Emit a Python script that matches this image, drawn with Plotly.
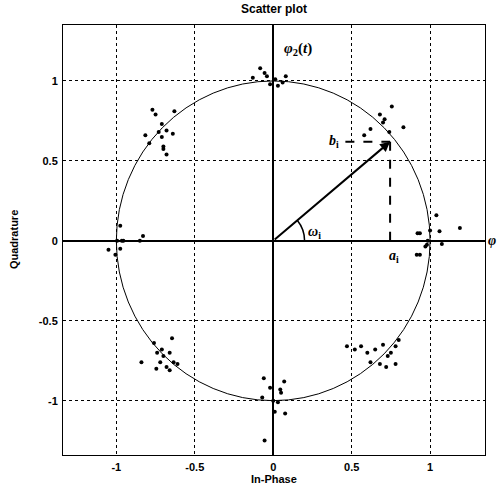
import plotly.graph_objects as go

# Received symbol samples (In-Phase, Quadrature)
top_i = [-0.083, -0.055, -0.04, -0.13, 0.08, 0.013, 0.03, -0.02, 0.06]
top_q = [1.08, 1.05, 1.03, 1.02, 1.03, 1.01, 0.97, 0.98, 0.99]

topright_i = [0.756, 0.68, 0.71, 0.70, 0.83, 0.58, 0.62, 0.74]
topright_q = [0.84, 0.79, 0.76, 0.74, 0.71, 0.66, 0.70, 0.68]

right_i = [1.04, 1.19, 1.06, 1.0, 0.92, 0.935, 0.98, 0.97, 1.075, 0.915, 0.935, 0.985]
right_q = [0.16, 0.08, 0.06, 0.065, 0.048, 0.048, -0.025, -0.035, -0.02, -0.087, -0.087, 0.0]

botright_i = [0.47, 0.52, 0.56, 0.60, 0.62, 0.65, 0.68, 0.70, 0.72, 0.75, 0.78, 0.80, 0.78, 0.73]
botright_q = [-0.66, -0.68, -0.66, -0.70, -0.76, -0.68, -0.77, -0.65, -0.79, -0.70, -0.77, -0.62, -0.66, -0.72]

bottom_i = [-0.06, -0.02, 0.045, 0.07, 0.05, -0.07, 0.03, 0.0, 0.01, 0.076, -0.055]
bottom_q = [-0.86, -0.92, -0.93, -0.88, -0.95, -0.98, -1.01, -1.0, -1.07, -1.08, -1.25]

botleft_i = [-0.645, -0.76, -0.71, -0.74, -0.66, -0.70, -0.84, -0.72, -0.635, -0.61, -0.68, -0.745, -0.66]
botleft_q = [-0.61, -0.64, -0.68, -0.70, -0.70, -0.72, -0.76, -0.76, -0.76, -0.77, -0.79, -0.80, -0.81]

left_i = [-0.975, -0.995, -0.965, -0.955, -0.85, -0.83, -1.05, -0.975, -1.006]
left_q = [0.094, 0.0, 0.0, 0.0, 0.0, 0.03, -0.056, -0.05, -0.087]

topleft_i = [-0.77, -0.75, -0.63, -0.71, -0.68, -0.73, -0.815, -0.71, -0.64, -0.79, -0.70, -0.70, -0.68]
topleft_q = [0.82, 0.79, 0.81, 0.73, 0.69, 0.68, 0.66, 0.65, 0.67, 0.61, 0.59, 0.575, 0.54]

# Illustrated symbol vector (a_i, b_i)
a_i = 0.745
b_i = 0.62

tick_vals = [-1, -0.5, 0, 0.5, 1]
tick_text = ["-1", "-0.5", "0", "0.5", "1"]

xs = top_i + topright_i + right_i + botright_i + bottom_i + botleft_i + left_i + topleft_i
ys = top_q + topright_q + right_q + botright_q + bottom_q + botleft_q + left_q + topleft_q

FONT = "Liberation Sans, Arial, sans-serif"
SERIF = "Liberation Serif, Times New Roman, serif"

fig = go.Figure()
fig.add_trace(go.Scatter(
    x=xs, y=ys, mode="markers",
    marker=dict(color="black", size=4),
    showlegend=False, hoverinfo="skip", cliponaxis=False,
))

# unit circle
fig.add_shape(type="circle", xref="x", yref="y", x0=-1, y0=-1, x1=1, y1=1,
              line=dict(color="black", width=1), layer="above")
# dashed projections
fig.add_shape(type="line", xref="x", yref="y", x0=0.46, y0=b_i, x1=a_i, y1=b_i,
              line=dict(color="black", width=2, dash="dash"))
fig.add_shape(type="line", xref="x", yref="y", x0=a_i, y0=b_i, x1=a_i, y1=0,
              line=dict(color="black", width=2, dash="dash"))
# angle arc
fig.add_shape(type="path", xref="x", yref="y",
              path="M 0.2 0 Q 0.2 0.073 0.153 0.129",
              line=dict(color="black", width=1.5))

# vector arrow
fig.add_annotation(x=a_i, y=b_i, ax=0, ay=0, xref="x", yref="y", axref="x", ayref="y",
                   showarrow=True, arrowhead=2, arrowsize=1, arrowwidth=2,
                   arrowcolor="black", text="")

def lab(x, y, text, size=14, xanchor="center", family=SERIF):
    fig.add_annotation(x=x, y=y, xref="x", yref="y", text=text, showarrow=False,
                       xanchor=xanchor, font=dict(family=family, size=size, color="black"))

lab(0.16, 1.2, "<b><i>φ</i><sub>2</sub>(<i>t</i>)</b>", 15)
lab(0.39, 0.62, "<b><i>b</i><sub>i</sub></b>", 14)
lab(0.77, -0.1, "<b><i>a</i><sub>i</sub></b>", 14)
lab(0.26, 0.05, "<b><i>ω</i><sub>i</sub></b>", 14)
# axis label cut off at the right edge (outside the axis range -> paper coords)
fig.add_annotation(x=1.003, y=0.498, xref="paper", yref="paper", text="<b><i>φ</i></b>",
                   showarrow=False, xanchor="left",
                   font=dict(family=SERIF, size=14, color="black"))

axis_common = dict(
    range=[-1.34, 1.35], tickvals=tick_vals, ticktext=tick_text,
    showgrid=True, gridcolor="black", gridwidth=1, griddash="dot",
    zeroline=True, zerolinecolor="black", zerolinewidth=2,
    showline=True, mirror=True, linecolor="black", linewidth=1,
    ticks="", tickfont=dict(family=FONT, size=11, color="black", weight="bold"),
)

fig.update_layout(
    width=502, height=498,
    margin=dict(l=63, r=17, t=25, b=43),
    paper_bgcolor="white", plot_bgcolor="white",
    xaxis=dict(**axis_common, ticklabelstandoff=2),
    yaxis=dict(**axis_common, ticklabelstandoff=2),
    title=dict(text="<b>Scatter plot</b>", x=0.5, xref="paper", y=0.99, yref="container",
               xanchor="center", yanchor="top",
               font=dict(family=FONT, size=12, color="black")),
    font=dict(family=FONT, color="black"),
)
fig.add_annotation(x=0.5, y=-0.075, xref="paper", yref="paper", text="<b>In-Phase</b>",
                   showarrow=False, font=dict(family=FONT, size=11, color="black"))
fig.add_annotation(x=-0.135, y=0.5, xref="paper", yref="paper", text="<b>Quadrature</b>",
                   showarrow=False, textangle=-90, font=dict(family=FONT, size=11, color="black"))

fig.write_html("out.html", config={"displayModeBar": False},
               post_script="document.body.style.margin='0';document.body.style.overflow='hidden';")
